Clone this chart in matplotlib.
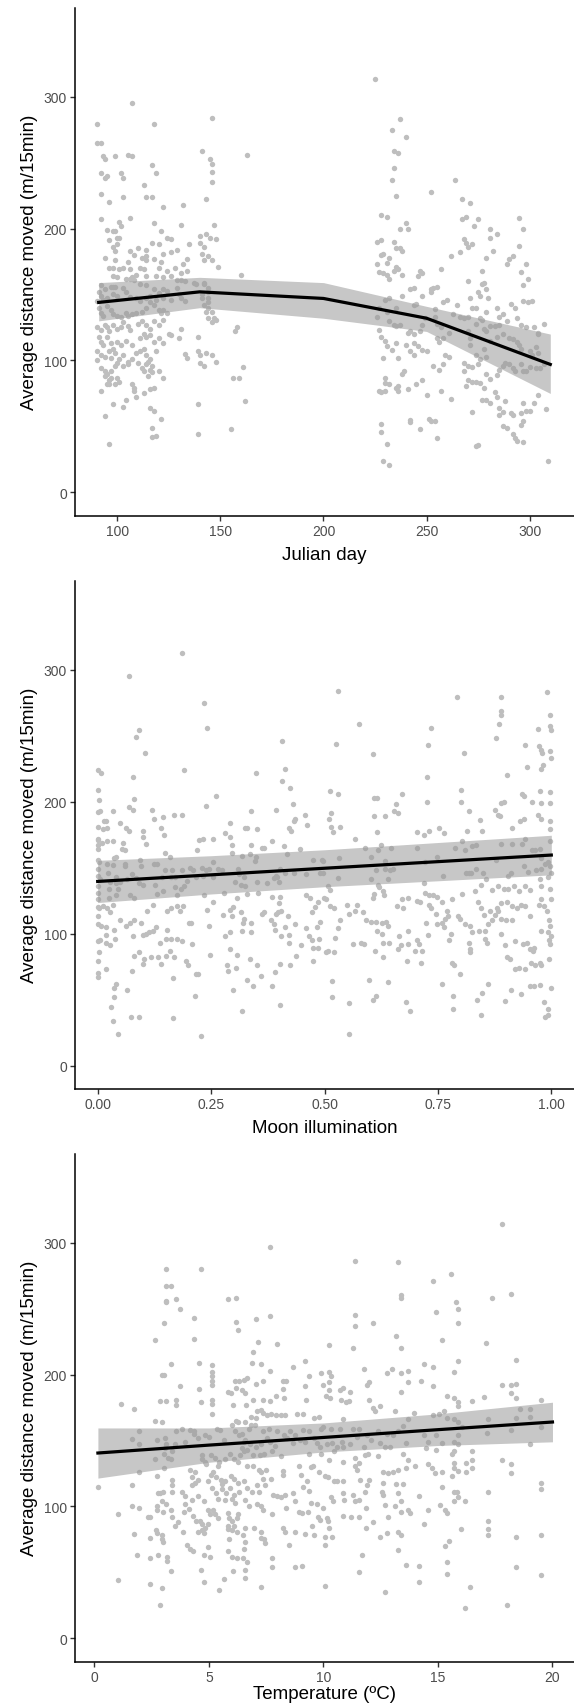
import matplotlib
matplotlib.use("Agg")
import matplotlib.pyplot as plt
from matplotlib.ticker import FormatStrFormatter

plt.rcParams['font.family'] = ['Liberation Sans', 'DejaVu Sans']

# ---- panel 1: Julian day ----
julian_day = [
    107, 90, 118, 146, 90, 92, 93, 94, 99, 105, 107, 141, 145, 146, 163, 117, 119, 92, 95, 94,
    102, 103, 146, 113, 146, 92, 96, 103, 114, 117, 143, 122, 132, 92, 95, 98, 99, 101, 102, 106,
    118, 121, 131, 147, 96, 100, 101, 98, 100, 94, 99, 99, 106, 110, 108, 112, 114, 117, 120, 124,
    126, 114, 122, 126, 129, 135, 140, 143, 140, 142, 145, 148, 141, 144, 146, 142, 96, 98, 101, 103,
    105, 106, 111, 114, 113, 118, 120, 121, 124, 128, 132, 134, 126, 131, 134, 149, 98, 100, 104, 107,
    109, 114, 119, 122, 129, 131, 133, 160, 92, 91, 92, 94, 97, 98, 99, 103, 106, 108, 111, 114,
    118, 120, 122, 124, 129, 130, 137, 138, 142, 142, 144, 144, 90, 93, 95, 98, 100, 104, 106, 109,
    111, 114, 116, 119, 122, 126, 131, 133, 141, 141, 144, 144, 142, 144, 143, 91, 92, 93, 95, 97,
    98, 100, 102, 104, 105, 107, 109, 112, 114, 116, 118, 120, 121, 122, 124, 144, 146, 146, 147, 148,
    90, 92, 94, 95, 96, 98, 100, 102, 103, 105, 106, 110, 112, 114, 116, 118, 120, 122, 125, 126,
    130, 131, 139, 158, 157, 91, 92, 93, 95, 97, 98, 100, 102, 104, 107, 111, 113, 114, 116, 118,
    120, 122, 90, 92, 94, 96, 97, 99, 101, 103, 105, 109, 111, 113, 114, 116, 119, 133, 134, 139,
    140, 143, 146, 148, 90, 92, 94, 95, 97, 99, 100, 103, 105, 107, 110, 112, 114, 115, 117, 140,
    142, 161, 94, 96, 97, 100, 101, 116, 117, 120, 113, 115, 122, 156, 159, 92, 95, 96, 99, 107,
    108, 108, 113, 116, 118, 98, 103, 104, 109, 116, 118, 139, 162, 94, 121, 117, 117, 119, 139, 155,
    96,
    225, 237, 233, 240, 234, 236, 234, 233, 235, 252, 264, 228, 231, 240, 237, 241, 267, 271, 269, 267,
    275, 273, 295, 297, 281, 284, 281, 226, 228, 234, 235, 237, 238, 268, 269, 272, 270, 282, 279, 262,
    266, 292, 290, 295, 289, 298, 296, 299, 297, 226, 229, 228, 232, 231, 235, 236, 238, 234, 227, 229,
    231, 232, 257, 247, 248, 246, 277, 277, 278, 270, 275, 276, 279, 280, 279, 276, 284, 287, 285, 289,
    291, 293, 294, 297, 299, 301, 296, 298, 302, 304, 307, 304, 227, 226, 230, 232, 235, 234, 235, 237,
    238, 242, 244, 244, 245, 248, 252, 253, 255, 252, 260, 258, 265, 271, 272, 274, 270, 274, 277, 278,
    279, 281, 283, 285, 281, 284, 287, 290, 292, 294, 295, 296, 300, 301, 303, 304, 263, 266, 268, 254,
    254, 255, 257, 261, 258, 249, 248, 247, 244, 242, 231, 232, 227, 228, 230, 231, 233, 235, 229, 236,
    240, 241, 244, 242, 244, 246, 248, 250, 255, 256, 253, 256, 258, 259, 261, 268, 270, 272, 268, 270,
    269, 272, 274, 276, 278, 279, 281, 284, 285, 287, 288, 290, 292, 293, 296, 297, 298, 300, 303, 305,
    307, 274, 278, 279, 276, 275, 271, 271, 270, 239, 238, 230, 230, 228, 227, 230, 236, 236, 241, 245,
    248, 250, 257, 262, 255, 251, 252, 254, 242, 242, 247, 274, 275, 272, 277, 279, 281, 283, 284, 285,
    285, 287, 288, 291, 292, 296, 296, 297, 297, 298, 300, 302, 304, 308, 287, 289, 292, 293, 294, 297,
    228, 228, 231, 229, 232, 309, 235, 232,
]
dist_day = [
    295, 279, 279, 284, 265, 265, 255, 253, 255, 256, 255, 259, 253, 249, 256, 248, 242, 242, 240, 238,
    242, 238, 243, 233, 235, 226, 220, 224, 224, 224, 222, 216, 218, 207, 199, 198, 198, 205, 202, 208,
    204, 198, 203, 203, 191, 193, 193, 186, 188, 178, 183, 176, 183, 185, 180, 178, 179, 189, 188, 193,
    192, 184, 181, 182, 184, 188, 194, 196, 189, 186, 193, 192, 181, 179, 176, 176, 170, 170, 169, 170,
    175, 169, 170, 176, 169, 177, 170, 175, 168, 170, 173, 177, 164, 166, 168, 171, 164, 163, 162, 163,
    165, 164, 164, 163, 161, 161, 160, 165, 157, 152, 149, 154, 156, 156, 156, 155, 162, 161, 158, 157,
    154, 151, 154, 153, 155, 150, 159, 158, 158, 159, 155, 152, 145, 146, 147, 150, 149, 152, 148, 147,
    145, 147, 149, 146, 147, 146, 147, 145, 150, 147, 147, 144, 142, 140, 137, 140, 136, 134, 141, 138,
    135, 134, 133, 136, 134, 135, 136, 137, 140, 144, 142, 138, 136, 138, 136, 132, 137, 129, 132, 131,
    125, 123, 127, 125, 122, 127, 124, 125, 129, 126, 123, 128, 130, 127, 124, 130, 127, 131, 120, 119,
    117, 124, 118, 125, 122, 118, 114, 112, 118, 113, 109, 114, 112, 115, 112, 117, 120, 118, 119, 114,
    117, 113, 107, 104, 103, 107, 102, 106, 101, 104, 99, 106, 107, 109, 104, 101, 107, 105, 102, 107,
    104, 106, 104, 99, 100, 94, 92, 90, 92, 96, 98, 96, 97, 101, 98, 94, 97, 99, 96, 98,
    96, 95, 88, 85, 87, 87, 84, 93, 91, 92, 92, 88, 87, 87, 87, 77, 82, 82, 82, 82,
    79, 77, 75, 78, 79, 67, 65, 70, 72, 64, 62, 67, 69, 58, 56, 49, 42, 43, 44, 48,
    37,
    313, 283, 275, 269, 259, 257, 246, 237, 225, 228, 237, 210, 209, 204, 200, 200, 222, 219, 209, 207,
    207, 202, 208, 200, 200, 196, 193, 190, 191, 190, 185, 185, 183, 192, 189, 188, 186, 183, 178, 179,
    182, 179, 177, 187, 173, 173, 167, 162, 157, 173, 181, 180, 178, 174, 171, 169, 165, 168, 167, 166,
    165, 162, 169, 168, 166, 164, 168, 158, 159, 160, 152, 149, 154, 147, 137, 132, 140, 135, 133, 130,
    143, 140, 132, 145, 144, 145, 127, 125, 125, 120, 128, 121, 140, 133, 146, 147, 140, 127, 126, 127,
    149, 154, 155, 142, 143, 149, 154, 155, 156, 152, 146, 144, 142, 147, 140, 140, 133, 128, 131, 124,
    122, 126, 126, 127, 115, 118, 120, 117, 116, 114, 112, 109, 107, 104, 110, 106, 135, 133, 132, 139,
    133, 128, 125, 121, 117, 132, 127, 122, 120, 122, 137, 130, 123, 118, 115, 111, 108, 113, 102, 102,
    112, 121, 113, 107, 104, 111, 108, 107, 117, 114, 96, 93, 97, 104, 103, 98, 96, 95, 92, 85,
    81, 84, 84, 83, 79, 90, 86, 89, 93, 96, 98, 97, 94, 92, 97, 92, 92, 95, 94, 94,
    97, 104, 109, 103, 101, 97, 112, 117, 122, 92, 90, 87, 83, 76, 77, 77, 81, 77, 78, 82,
    85, 74, 77, 71, 41, 56, 54, 54, 55, 53, 48, 35, 36, 61, 70, 70, 68, 76, 72, 64,
    59, 61, 69, 60, 59, 60, 51, 54, 68, 62, 62, 68, 74, 63, 50, 49, 44, 41, 39, 38,
    52, 46, 37, 24, 21, 24, 79, 82,
]
fit_day_x = [91, 140, 200, 250, 310]
fit_day_y = [144, 152, 147, 132, 97]
fit_day_lo = [130, 140, 132, 122, 75]
fit_day_hi = [159, 163, 159, 141, 120]

# ---- panel 2: moon illumination ----
moon = [
    0.186, 0.068, 0.235, 0.241, 0.084, 0.092, 0.105, 0.191, 0.0, 0.007,
    0.078, 0.0, 0.002, 0.080, 0.0, 0.006, 0.034, 0.068, 0.077, 0.119,
    0.124, 0.145, 0.169, 0.186, 0.238, 0.260, 0.013, 0.019, 0.0, 0.012,
    0.021, 0.049, 0.062, 0.068, 0.099, 0.139, 0.146, 0.099, 0.106, 0.292,
    0.0, 0.001, 0.010, 0.021, 0.033, 0.056, 0.053, 0.061, 0.0,
    0.0, 0.148, 0.159, 0.218, 0.224, 0.233, 0.255, 0.280, 0.291, 0.295,
    0.295, 0.0, 0.003, 0.036, 0.040, 0.021, 0.034, 0.060, 0.060,
    0.093, 0.095, 0.124, 0.131, 0.148, 0.164, 0.185, 0.204, 0.211, 0.230,
    0.239, 0.246, 0.254, 0.265, 0.273, 0.310, 0.311, 0.0, 0.0, 0.006,
    0.022, 0.041, 0.027, 0.040, 0.050, 0.064, 0.075, 0.084, 0.092, 0.099,
    0.127, 0.142, 0.161, 0.170, 0.196, 0.217, 0.233, 0.255, 0.302, 0.316,
    0.0, 0.0, 0.001, 0.025, 0.024, 0.041, 0.045, 0.071, 0.080, 0.131,
    0.143, 0.171, 0.174, 0.184, 0.190, 0.235, 0.255, 0.279, 0.308, 0.0,
    0.0, 0.002, 0.012, 0.021, 0.027, 0.034, 0.109, 0.123, 0.152, 0.161,
    0.174, 0.181, 0.189, 0.240, 0.276, 0.291, 0.295, 0.298, 0.316, 0.0,
    0.008, 0.018, 0.036, 0.049, 0.062, 0.071, 0.080, 0.096, 0.114, 0.106,
    0.123, 0.128, 0.152, 0.201, 0.205, 0.245, 0.280, 0.292,
    0.019, 0.018, 0.038, 0.028, 0.0, 0.005, 0.077, 0.100, 0.137, 0.151,
    0.162, 0.174, 0.186, 0.208, 0.292, 0.307, 0.003, 0.0, 0.080, 0.092,
    0.102, 0.100, 0.117, 0.133, 0.140, 0.151, 0.159, 0.168, 0.195, 0.198,
    0.248, 0.286, 0.305, 0.0, 0.001, 0.019, 0.075, 0.165, 0.217, 0.221,
    0.288, 0.041, 0.036, 0.064, 0.036, 0.030, 0.034, 0.074, 0.092, 0.167,
    0.044, 0.227, 0.215, 0.298,
    0.529, 0.577, 0.406, 0.525, 0.608, 0.349, 0.414, 0.407, 0.425, 0.430,
    0.513, 0.529, 0.339, 0.394, 0.456, 0.515, 0.510, 0.610, 0.615, 0.610,
    0.634, 0.658, 0.653, 0.661, 0.325, 0.330, 0.351, 0.421, 0.426, 0.436,
    0.432, 0.461, 0.515, 0.534, 0.519, 0.616, 0.568, 0.318, 0.336, 0.339,
    0.366, 0.363, 0.385, 0.411, 0.445, 0.417, 0.349, 0.347, 0.402, 0.392,
    0.395, 0.388, 0.399, 0.414, 0.432, 0.460, 0.475, 0.494, 0.497, 0.490,
    0.497, 0.531, 0.529, 0.590, 0.602, 0.619, 0.624, 0.646, 0.633, 0.613,
    0.602, 0.634, 0.644, 0.650, 0.641, 0.618, 0.621, 0.628, 0.609, 0.606,
    0.631, 0.323, 0.324, 0.351, 0.374, 0.330, 0.354, 0.385, 0.401, 0.400,
    0.459, 0.469, 0.498, 0.503, 0.507, 0.513, 0.473, 0.479, 0.485, 0.513,
    0.520, 0.549, 0.572, 0.554, 0.568, 0.584, 0.591, 0.602, 0.613, 0.627,
    0.636, 0.641, 0.616, 0.627, 0.659, 0.323, 0.320, 0.318, 0.339, 0.339,
    0.362, 0.366, 0.382, 0.389, 0.392, 0.397, 0.404, 0.420, 0.436, 0.391,
    0.413, 0.422, 0.405, 0.422, 0.448, 0.459, 0.466, 0.473, 0.484, 0.491,
    0.488, 0.475, 0.485, 0.503, 0.507, 0.522, 0.523, 0.535, 0.529, 0.562,
    0.581, 0.588, 0.612, 0.630, 0.643, 0.664, 0.662, 0.336, 0.351, 0.360,
    0.330, 0.342, 0.391, 0.402, 0.425, 0.438, 0.475, 0.384, 0.402, 0.516,
    0.516, 0.554, 0.554, 0.597, 0.606, 0.613, 0.640, 0.628, 0.318,
    0.792, 0.890, 0.990, 0.889, 0.889, 0.884, 0.997, 0.734, 0.971, 0.997,
    1.0, 0.879, 0.728, 0.808, 0.943, 0.972, 0.978, 0.980, 0.997, 0.999,
    0.727, 0.903, 0.947, 0.978, 0.981, 0.671, 0.802, 0.726, 0.802, 0.975,
    0.997, 0.890, 0.895, 0.936, 0.940, 0.958, 0.978, 0.997, 0.818, 0.875,
    0.883, 0.887, 0.842, 0.848, 0.914, 0.931, 0.940, 0.971, 0.978, 0.997,
    0.997, 0.705, 0.720, 0.730, 0.752, 0.764, 0.815, 0.705, 0.747, 0.787,
    0.803, 0.809, 0.825, 0.833, 0.890, 0.914, 0.936, 0.943, 0.997, 0.721,
    0.761, 0.811, 0.818, 0.823, 0.834, 0.849, 0.877, 0.905, 0.912, 0.939,
    0.949, 0.958, 0.965, 0.975, 0.978, 0.967, 0.978, 0.987, 0.993, 0.997,
    1.0, 0.974, 0.978, 0.992, 0.997, 1.0, 0.720, 0.721, 0.731, 0.740,
    0.748, 0.758, 0.670, 0.684, 0.705, 0.711, 0.730, 0.734, 0.745, 0.758,
    0.770, 0.765, 0.773, 0.781, 0.803, 0.831, 0.846, 0.856, 0.870, 0.883,
    0.896, 0.905, 0.918, 0.928, 0.942, 0.953, 0.839, 0.845, 0.852, 0.864,
    0.880, 0.889, 0.902, 0.914, 0.925, 0.934, 0.943, 0.953, 0.673, 0.684,
    0.723, 0.728, 0.747, 0.764, 0.775, 0.778, 0.795, 0.798, 0.809, 0.821,
    0.825, 0.840, 0.853, 0.861, 0.870, 0.875, 0.883, 0.890, 0.901, 0.914,
    0.972, 0.978, 0.983, 0.990, 0.994, 0.997, 0.977, 0.993, 0.994, 0.997,
    1.0, 0.668, 0.684, 0.699, 0.705, 0.708, 0.714, 0.712, 0.681,
    0.818, 0.820, 0.820, 0.853, 0.859, 0.889, 0.897, 0.903, 0.909, 0.921,
    0.938, 0.947, 0.953, 0.959, 0.962, 0.920, 0.928, 0.943, 0.956, 0.964,
    0.974, 0.978, 0.994, 0.781, 0.786, 0.799, 0.759, 0.783, 0.784, 0.837,
    0.848, 0.846, 0.861, 0.897, 0.911, 0.933, 0.953, 0.961, 0.975, 1.0,
    0.983, 0.993, 0.992, 0.987, 0.679, 0.689,
]
dist_moon = [
    313, 295, 275, 256, 249, 254, 237, 224, 224, 222,
    219, 209, 201, 202, 192, 193, 193, 196, 194, 194,
    187, 188, 190, 190, 197, 204, 185, 185, 181, 179,
    180, 184, 180, 178, 178, 180, 175, 173, 168, 184,
    172, 171, 169, 170, 170, 169, 164, 163, 164,
    167, 161, 158, 163, 171, 172, 172, 176, 173, 167,
    161, 156, 154, 157, 158, 153, 152, 153, 151,
    156, 151, 153, 153, 148, 148, 148, 150, 148, 150,
    148, 149, 154, 149, 148, 149, 145, 149, 144, 141,
    146, 143, 139, 138, 139, 141, 145, 142, 138, 137,
    137, 143, 143, 143, 140, 143, 144, 143, 139, 137,
    136, 131, 126, 134, 127, 129, 134, 129, 127, 130,
    132, 135, 129, 134, 136, 129, 124, 131, 127, 113,
    120, 119, 121, 119, 116, 122, 117, 122, 117, 119,
    121, 117, 121, 118, 114, 118, 113, 120, 116, 107,
    106, 105, 103, 110, 106, 108, 110, 108, 101, 100,
    102, 105, 103, 108, 108, 106, 98, 101,
    99, 93, 96, 91, 94, 95, 98, 99, 93, 96,
    96, 96, 94, 92, 88, 84, 86, 79, 83, 86,
    81, 77, 82, 82, 77, 83, 87, 82, 79, 76,
    84, 76, 74, 70, 67, 73, 72, 66, 69, 69,
    72, 62, 59, 57, 52, 44, 34, 37, 37, 36,
    24, 22, 53, 57,
    284, 259, 246, 244, 236, 222, 225, 216, 210, 198,
    208, 206, 193, 194, 190, 191, 187, 203, 203, 189,
    189, 198, 193, 191, 180, 180, 179, 180, 178, 187,
    185, 182, 181, 181, 177, 177, 172, 159, 160, 167,
    165, 165, 170, 166, 164, 160, 158, 155, 149, 144,
    143, 142, 139, 146, 146, 145, 156, 156, 155, 146,
    146, 157, 142, 165, 158, 163, 167, 165, 155, 148,
    141, 149, 148, 149, 141, 137, 135, 132, 130, 127,
    129, 143, 136, 139, 138, 130, 131, 128, 128, 123,
    129, 127, 127, 126, 136, 133, 116, 120, 124, 121,
    119, 122, 122, 115, 117, 116, 110, 109, 109, 108,
    109, 106, 102, 100, 121, 111, 108, 102, 108, 101,
    115, 116, 110, 107, 115, 116, 117, 113, 107, 103,
    105, 99, 98, 93, 91, 104, 98, 95, 105, 109,
    96, 89, 89, 86, 87, 86, 97, 110, 104, 92,
    93, 92, 87, 93, 93, 98, 88, 81, 76, 68,
    65, 60, 71, 77, 76, 83, 79, 60, 46, 64,
    52, 47, 24, 65, 50, 53, 63, 82, 41,
    279, 279, 283, 269, 266, 259, 266, 256, 255, 257,
    254, 248, 243, 237, 243, 242, 239, 237, 238, 233,
    219, 220, 226, 225, 228, 206, 209, 200, 200, 208,
    207, 199, 200, 206, 204, 200, 199, 199, 193, 194,
    190, 189, 186, 178, 180, 185, 187, 190, 187, 185,
    179, 177, 175, 178, 180, 176, 178, 165, 158, 165,
    170, 163, 166, 167, 168, 168, 168, 172, 170, 154,
    144, 146, 146, 146, 149, 146, 156, 144, 146, 151,
    147, 163, 163, 164, 157, 148, 149, 153, 154, 151,
    146, 141, 136, 143, 134, 126, 138, 131, 129, 129,
    128, 124, 126, 127, 125, 124, 122, 119, 115, 108,
    117, 111, 113, 126, 130, 132, 137, 141, 133, 136,
    134, 134, 136, 132, 136, 133, 124, 119, 114, 117,
    119, 123, 124, 121, 119, 122, 121, 113, 119, 102,
    108, 99, 107, 105, 95, 100, 113, 111, 107, 106,
    101, 102, 102, 107, 110, 114, 117, 111, 110, 110,
    122, 126, 121, 117, 110, 106, 102, 101, 95, 92,
    98, 91, 92, 87, 95, 92, 87, 78, 79,
    93, 88, 86, 96, 93, 100, 91, 82, 81, 94,
    92, 93, 88, 87, 89, 73, 74, 73, 78, 76,
    78, 76, 81, 78, 76, 69, 62, 53, 43, 50,
    55, 38, 62, 49, 57, 54, 60, 60, 61, 59,
    48, 43, 38, 37, 48, 41,
]
fit_moon_x = [0.0, 0.25, 0.5, 0.75, 1.0]
fit_moon_y = [139.5, 144.5, 149.5, 154.5, 159.5]
fit_moon_lo = [123.5, 130.0, 135.5, 140.0, 144.5]
fit_moon_hi = [155.5, 159.0, 163.5, 169.0, 174.5]

# ---- panel 3: temperature ----
temp = [
    3.14, 4.65, 3.14, 3.34, 3.14, 3.14, 3.54, 3.75, 4.36, 5.84,
    6.16, 3.05, 6.16, 6.25, 2.64, 4.36, 3.34, 4.56, 2.96, 3.05,
    5.14, 5.14, 5.14, 5.14, 5.14, 3.75, 4.56, 6.13, 6.31, 5.82,
    5.96, 6.16, 6.43, 1.16, 1.74, 2.85, 3.14, 3.54, 3.54, 4.65,
    5.14, 5.14, 5.14, 6.05, 2.64, 2.93, 1.94, 1.65, 1.94, 2.73,
    3.08, 3.14, 3.54, 3.84, 4.16, 4.36, 4.36, 3.52, 3.95, 4.53,
    4.82, 5.0, 5.35, 5.47, 5.64, 5.99, 6.16, 6.28, 6.14, 6.31,
    6.43, 6.57, 3.40, 2.64, 3.05, 3.08, 3.22, 3.34, 3.05, 3.37,
    3.40, 1.94, 1.62, 0.14, 2.73, 2.79, 3.0, 2.88, 3.37, 3.14,
    2.96, 3.84, 3.95, 4.18, 4.39, 4.27, 4.24, 4.39, 4.53, 4.68,
    4.71, 4.85, 4.82, 5.09, 5.26, 5.38, 5.44, 5.70, 5.93, 6.11,
    6.25, 6.37, 6.46, 5.09, 5.17, 5.29, 5.52, 5.55, 5.70, 5.96,
    6.11, 6.25, 5.58, 5.76, 5.93, 6.08, 6.31, 5.70, 5.99, 6.14,
    4.94, 5.12, 5.29, 5.38, 4.24, 4.53, 4.77, 4.94, 5.17,
    5.26, 5.41, 5.06, 1.04, 1.62, 1.94, 2.32, 2.44, 2.73, 2.73,
    3.0, 3.34, 3.40, 3.89, 3.95, 4.13, 4.30, 4.45, 4.59, 4.71,
    4.82, 4.94, 4.53, 4.68, 4.77, 5.84, 5.87, 5.99, 6.22, 6.28,
    5.82, 5.84, 5.99, 6.11, 6.22, 6.48, 1.74, 2.44, 2.67,
    2.73, 2.96, 2.96, 3.0, 3.52, 3.66, 3.86, 4.04, 4.18, 4.30,
    4.97, 5.06, 4.77, 5.87, 5.84, 5.99, 6.22, 1.84,
    2.44, 2.76, 3.17, 3.17, 3.34, 4.65, 4.77, 5.67, 5.44, 6.05,
    1.04, 2.44, 2.93, 2.85,
    7.66, 11.38, 7.05, 7.66, 11.38, 11.38, 12.18,
    7.15, 7.95, 6.94, 11.27, 10.25, 6.86, 7.26, 7.66, 8.65, 9.18,
    11.77, 12.79, 12.99, 6.53, 6.67, 7.05, 7.37, 8.25, 8.36, 9.38,
    9.88, 10.25, 10.34, 11.89, 11.97, 6.56, 6.94, 7.37, 7.66,
    6.62, 7.26, 7.08, 7.93, 8.25, 8.28, 9.19, 9.24, 9.99, 10.25,
    10.25, 10.11, 10.28, 10.72, 10.87, 11.16, 10.75, 10.98, 11.13, 11.97,
    12.18, 12.23, 12.47, 13.14, 6.85, 7.05, 7.37, 7.52, 7.69, 7.93,
    8.13, 8.33, 8.83, 9.09, 9.59, 9.79, 10.87, 6.56, 6.82, 6.73,
    6.99, 7.37, 7.64, 7.95, 8.28, 8.54, 8.77, 9.12, 9.35, 9.59,
    9.88, 9.96, 10.31, 10.72, 11.27, 11.56, 11.89, 12.38, 12.76, 13.02,
    6.53, 6.79, 7.05, 7.26, 7.52, 7.66, 7.90, 8.39, 8.68,
    8.97, 9.21, 9.73, 9.85, 10.14, 10.37, 10.58, 10.81, 10.87, 11.16,
    11.45, 11.77, 12.06, 12.47, 12.70, 12.90, 6.53, 6.67, 6.91, 7.23,
    7.40, 7.75, 8.16, 9.38, 9.91, 10.25, 10.46, 10.87, 11.36, 11.54,
    11.80, 11.94, 12.38, 6.65, 6.94, 7.17, 7.29, 7.49, 7.37, 7.72,
    8.25, 8.25, 8.94, 9.03, 9.53, 9.47, 9.79, 10.08, 10.20, 10.46,
    10.87, 11.36, 11.45, 11.59, 12.0, 12.58, 12.82, 13.05, 12.58,
    6.53, 6.65, 6.88, 7.08, 7.17, 7.43, 7.81, 7.98, 8.13, 8.32,
    8.68, 8.77, 9.09, 9.27, 9.35, 9.47, 9.73, 9.99, 10.31, 10.40,
    10.58, 10.87, 10.90, 11.27, 11.39, 11.57, 11.80, 11.91, 12.55, 12.58,
    12.67, 13.11, 6.56, 6.73, 7.08, 7.26, 7.37, 7.75, 8.36,
    8.92, 9.06, 9.32, 9.50, 9.76, 9.85, 10.17, 10.20, 10.25, 10.87,
    11.19, 11.54, 11.86, 12.15, 12.82, 6.59, 6.97, 7.29, 7.26,
    7.40, 7.46, 8.25, 8.33, 8.48, 8.77, 9.21, 9.59, 10.08, 10.05,
    10.37, 11.86, 12.47, 12.79, 6.56, 6.53, 6.47, 6.67, 6.57,
    6.56, 7.75, 7.75, 8.77, 9.06, 11.68, 11.57, 10.05, 7.26, 12.67,
    17.78, 13.27, 14.78, 15.59, 13.38, 13.38, 15.77, 15.89, 17.37, 18.19,
    14.90, 15.89, 13.18, 13.38, 15.19, 17.08, 14.40, 14.78, 15.89, 15.68,
    18.39, 13.38, 13.67, 13.67, 14.28, 14.78, 17.78, 18.21, 18.39, 18.19,
    13.38, 15.39, 15.68, 15.89, 15.89, 16.50, 16.99, 18.39, 19.50, 13.96,
    13.70, 14.78, 15.04, 15.27, 15.39, 15.68, 15.89, 16.03, 17.17, 17.14,
    18.59, 19.0, 19.0, 18.39, 18.19, 19.50, 13.47, 13.27, 13.61, 14.37,
    14.58, 14.90, 15.19, 15.68, 15.89, 15.89, 14.90, 14.49, 15.62, 15.71,
    16.50, 19.0, 13.47, 13.67, 13.99, 13.27, 13.59, 14.58, 14.72, 14.87,
    15.19, 15.68, 15.68, 15.62, 15.89, 16.21, 16.21, 16.50, 16.50, 17.78,
    18.19, 18.19, 13.18, 13.27, 13.38, 13.47, 14.17, 15.19, 15.68, 15.83,
    15.89, 15.68, 16.18, 17.20, 19.50, 19.50, 13.38, 13.67, 13.79, 14.58,
    15.10, 15.30, 15.39, 14.37, 16.0, 17.20, 17.20, 17.20, 13.27, 13.38,
    13.27, 15.48, 15.30, 13.59, 14.17, 14.17, 15.39, 15.39, 16.39, 16.18,
    18.0, 18.39, 19.50, 18.39, 19.50,
]
dist_temp = [
    280, 280, 267, 267, 256, 255, 257, 250, 243, 257,
    258, 239, 240, 234, 226, 227, 208, 209, 200, 200,
    207, 202, 199, 195, 192, 191, 189, 195, 195, 187,
    186, 190, 188, 178, 174, 180, 180, 181, 177, 179,
    181, 178, 170, 177, 165, 164, 157, 151, 147, 150,
    152, 147, 157, 159, 158, 157, 155, 147, 149, 152,
    154, 153, 159, 158, 150, 162, 165, 164, 157, 154,
    155, 150, 142, 136, 140, 144, 137, 136, 129, 120,
    116, 126, 116, 115, 123, 110, 111, 110, 111, 102,
    104, 111, 108, 128, 126, 122, 116, 118, 120, 139,
    136, 132, 134, 139, 137, 131, 134, 136, 140, 136,
    134, 139, 144, 124, 126, 122, 120, 117, 119, 123,
    121, 118, 113, 110, 114, 109, 111, 105, 106, 103,
    119, 114, 110, 106, 105, 108, 104, 97, 97,
    94, 91, 94, 94, 100, 99, 92, 92, 100, 97,
    96, 97, 92, 96, 102, 98, 93, 89, 89, 87,
    84, 87, 81, 82, 80, 95, 91, 89, 91, 94,
    85, 83, 82, 85, 81, 78, 79, 76, 82,
    80, 78, 75, 73, 85, 88, 81, 71, 68, 66,
    69, 62, 63, 75, 66, 62, 61, 63,
    61, 63, 62, 59, 51, 52, 43, 45, 37, 51,
    44, 41, 38, 25,
    297, 286, 242, 244, 245, 237, 239,
    225, 223, 217, 220, 222, 209, 208, 203, 206, 210,
    204, 201, 204, 196, 197, 193, 195, 195, 195, 199,
    201, 202, 199, 192, 194, 186, 181, 181, 180,
    177, 173, 172, 184, 189, 182, 191, 181, 192, 194,
    188, 184, 182, 188, 190, 187, 181, 179, 180, 181,
    175, 172, 176, 172, 168, 167, 171, 169, 170, 169,
    169, 169, 170, 170, 167, 168, 166, 164, 162, 159,
    162, 157, 159, 157, 154, 157, 154, 158, 157, 152,
    159, 160, 159, 159, 159, 159, 154, 157, 155, 154,
    149, 147, 145, 147, 152, 149, 146, 152, 148,
    150, 149, 148, 145, 147, 148, 145, 149, 145, 147,
    153, 145, 150, 148, 145, 145, 142, 143, 139, 139,
    140, 142, 138, 140, 140, 135, 142, 134, 137, 133,
    139, 140, 138, 131, 131, 128, 126, 128, 121, 121,
    127, 124, 131, 124, 131, 130, 126, 123, 122, 119,
    119, 131, 128, 120, 120, 126, 125, 126, 118,
    119, 114, 111, 116, 111, 116, 109, 108, 107, 109,
    110, 104, 115, 119, 112, 103, 102, 99, 107, 104,
    119, 110, 105, 109, 104, 105, 111, 116, 111, 109,
    101, 100, 105, 100, 102, 100, 97, 94, 99,
    96, 95, 96, 85, 92, 90, 91, 89, 84, 93,
    92, 92, 99, 88, 92, 84, 84, 81, 76,
    75, 72, 84, 81, 71, 81, 79, 78, 77, 71,
    77, 84, 77, 80, 73, 68, 61, 58, 52,
    46, 61, 54, 54, 55, 63, 50, 40, 39, 35,
    314, 285, 271, 276, 260, 258, 255, 250, 258, 261,
    247, 239, 229, 220, 226, 224, 208, 206, 210, 202,
    211, 201, 203, 194, 195, 191, 192, 192, 193, 186,
    187, 184, 182, 179, 176, 180, 183, 182, 181, 171,
    166, 169, 170, 172, 167, 166, 164, 160, 166, 156,
    174, 174, 168, 167, 158, 160, 161, 157, 148, 154,
    149, 154, 148, 149, 154, 147, 143, 144, 140, 142,
    142, 147, 140, 135, 131, 128, 129, 132, 129, 125,
    126, 133, 129, 123, 127, 133, 126, 135, 129, 135,
    132, 125, 117, 110, 104, 117, 108, 115, 111, 111,
    107, 104, 104, 111, 118, 113, 96, 97, 95, 97,
    101, 97, 95, 87, 83, 89, 83, 78, 81, 78,
    67, 74, 70, 56, 55, 43, 58, 49, 39, 23,
    25, 77, 78, 54, 48,
]
fit_temp_x = [0.15, 5, 10, 15, 20]
fit_temp_y = [140.5, 146.5, 152.3, 158.2, 164.0]
fit_temp_lo = [121.5, 133.5, 141.3, 146.2, 149.0]
fit_temp_hi = [159.5, 159.5, 163.3, 170.2, 179.0]

W, H = 574, 1706
fig = plt.figure(figsize=(W / 100, H / 100), dpi=100)


def panel(bottom_px, x, y, fx, fy, flo, fhi, xlim, xticks, xlabel, fmt, xpad):
    ax = fig.add_axes([75 / W, bottom_px / H, 499 / W, 508 / H])
    ax.scatter(x, y, s=15, color='#BEBEBE', linewidths=0, zorder=1)
    ax.fill_between(fx, flo, fhi, color='#999999', alpha=0.55, linewidth=0, zorder=2)
    ax.plot(fx, fy, color='black', lw=2.3, zorder=3)
    ax.set_xlim(*xlim)
    ax.set_ylim(-17.5, 367.5)
    ax.set_xticks(xticks)
    ax.set_yticks([0, 100, 200, 300])
    if fmt:
        ax.xaxis.set_major_formatter(FormatStrFormatter(fmt))
    for s in ['top', 'right']:
        ax.spines[s].set_visible(False)
    for s in ['left', 'bottom']:
        ax.spines[s].set_linewidth(1.1)
        ax.spines[s].set_color('black')
    ax.tick_params(direction='out', length=3.3, width=1.0, color='#333333',
                   labelsize=10, labelcolor='#4D4D4D', pad=2.5)
    ax.set_ylabel('Average distance moved (m/15min)', fontsize=13.5, labelpad=4)
    ax.set_xlabel(xlabel, fontsize=13.5, labelpad=xpad)
    return ax


panel(1189.5, julian_day, dist_day, fit_day_x, fit_day_y, fit_day_lo, fit_day_hi,
      (79.5, 321.5), [100, 150, 200, 250, 300], 'Julian day', None, 6)
panel(616.4, moon, dist_moon, fit_moon_x, fit_moon_y, fit_moon_lo, fit_moon_hi,
      (-0.05, 1.05), [0, 0.25, 0.5, 0.75, 1.0], 'Moon illumination', '%.2f', 6)
panel(43.5, temp, dist_temp, fit_temp_x, fit_temp_y, fit_temp_lo, fit_temp_hi,
      (-0.85, 20.94), [0, 5, 10, 15, 20], 'Temperature (ºC)', None, 1)

fig.savefig('out.png', dpi=100)
